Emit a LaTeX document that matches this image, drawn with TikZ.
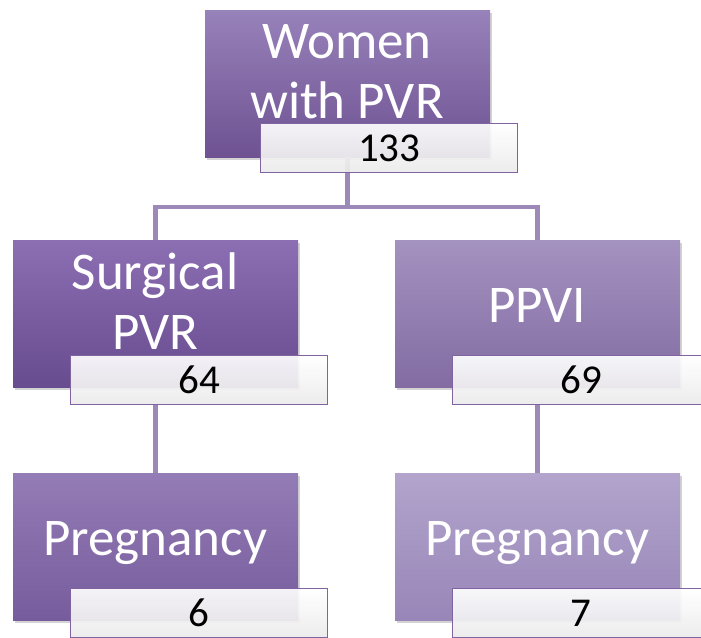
\documentclass[tikz,border=0pt]{standalone}
\usepackage{fontspec}
\setmainfont{Carlito}
\usetikzlibrary{shadows}
\definecolor{conn}{HTML}{9D89B8}
\definecolor{lblborder}{HTML}{8064A2}
\tikzset{
  bigbox/.style={rectangle, draw=none, minimum width=285pt, minimum height=147pt, inner sep=0pt,
    drop shadow={shadow xshift=2pt, shadow yshift=-3pt, opacity=0.35}},
  lblbox/.style={rectangle, draw=lblborder, line width=1.4pt, minimum width=257pt, minimum height=49pt, inner sep=0pt,
    top color=white, bottom color=black!8, fill opacity=0.92, text opacity=1,
    font=\fontsize{41}{48}\selectfont, text=black},
  bigtext/.style={text=white, font=\fontsize{53}{60}\selectfont, align=center, inner sep=0pt},
  connector/.style={draw=conn, line width=4.5pt},
}
\begin{document}
\begin{tikzpicture}[x=1pt,y=-1pt]
\useasboundingbox (0,0) rectangle (701,637);
\clip (0,0) rectangle (701,637);
% boxes
\node[bigbox, top color={rgb,255:red,152;green,130;blue,186}, bottom color={rgb,255:red,110;green,82;blue,146}, anchor=north west] (top) at (205,10) {};
\node[bigbox, top color={rgb,255:red,140;green,110;blue,178}, bottom color={rgb,255:red,104;green,76;blue,144}, anchor=north west] (surg) at (13,240) {};
\node[bigbox, top color={rgb,255:red,164;green,146;blue,192}, bottom color={rgb,255:red,130;green,108;blue,162}, anchor=north west] (ppvi) at (395,240) {};
\node[bigbox, top color={rgb,255:red,148;green,124;blue,182}, bottom color={rgb,255:red,118;green,92;blue,156}, anchor=north west] (pregL) at (13,473) {};
\node[bigbox, top color={rgb,255:red,178;green,164;blue,204}, bottom color={rgb,255:red,152;green,134;blue,184}, anchor=north west] (pregR) at (395,473) {};
% connectors
\coordinate (junc) at (top.south |- 0,207);
\draw[connector] (top.south) -- (junc);
\draw[connector] (surg.north) |- (junc) -| (ppvi.north);
% labels
\node[lblbox, anchor=north west] (topl) at (260,123) {133};
\node[lblbox, anchor=north west] (surgl) at (70,355) {64};
\node[lblbox, anchor=north west] (ppvil) at (452,355) {69};
\node[lblbox, anchor=north west] (pregLl) at (70,588) {6};
\node[lblbox, anchor=north west] (pregRl) at (452,588) {7};
\draw[connector] (surgl.south -| surg.south) -- (pregL.north);
\draw[connector] (ppvil.south -| ppvi.south) -- (pregR.north);
% big texts
\node[bigtext, anchor=base] (toptext) at (347,118) {Women\\with PVR};
\node[bigtext, anchor=base] (surgtext) at (155,349) {Surgical\\PVR};
\node[bigtext, anchor=base] (ppvitext) at (537,322) {PPVI};
\node[bigtext, anchor=base] (pregLtext) at (155,555) {Pregnancy};
\node[bigtext, anchor=base] (pregRtext) at (537,555) {Pregnancy};
\end{tikzpicture}
\end{document}
